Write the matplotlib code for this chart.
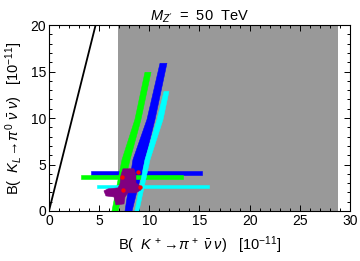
import matplotlib
matplotlib.use("Agg")
import matplotlib.pyplot as plt
from matplotlib.ticker import MultipleLocator

plt.rcParams['font.family'] = ['Liberation Sans', 'DejaVu Sans']
plt.rcParams['mathtext.fontset'] = 'custom'
plt.rcParams['mathtext.rm'] = 'Liberation Sans'
plt.rcParams['mathtext.it'] = 'Liberation Sans:italic'

# Grey experimental region (x range), full height
grey_x = [6.85, 28.85]
grey_y = [0, 20]

# Grossman-Nir bound line
gn_x = [0.0, 4.65]
gn_y = [0.0, 20.0]

# Diagonal bands: y levels, left edge x, right edge x
green_diag_y = [0.0, 5.51, 9.84, 14.92]
green_diag_l = [6.28, 7.28, 8.57, 9.57]
green_diag_r = [6.88, 8.08, 9.17, 10.17]

blue_diag_y = [0.0, 5.51, 9.84, 15.89]
blue_diag_l = [7.58, 8.37, 9.77, 11.07]
blue_diag_r = [8.28, 9.57, 10.57, 11.76]

cyan_diag_y = [0.0, 5.51, 9.84, 12.86]
cyan_diag_l = [8.57, 9.57, 10.77, 11.47]
cyan_diag_r = [8.97, 10.07, 11.37, 11.96]

# Horizontal bands: x range, y range
blue_h_x = [4.19, 15.25]
blue_h_y = [3.89, 4.32]
green_h_x = [3.19, 13.36]
green_h_y = [3.46, 3.89]
cyan_h_x = [4.79, 15.95]
cyan_h_y = [2.49, 2.81]

# Purple region outline
purple_x = [7.38, 8.47, 8.67, 8.67, 9.07, 9.17, 8.67, 7.88, 7.58, 7.48, 6.68,
            6.48, 5.68, 5.48, 5.88, 6.88, 7.08, 7.18]
purple_y = [4.54, 4.54, 3.89, 3.03, 2.70, 2.27, 1.95, 1.95, 1.51, 0.76, 0.65,
            1.51, 1.62, 2.16, 2.38, 2.49, 2.92, 3.89]

# Red points
red_x = [7.28, 8.87, 7.38, 9.07]
red_y = [3.68, 4.20, 2.27, 2.60]

fig = plt.figure(figsize=(3.6, 2.61), dpi=100)
ax = fig.add_axes([0.136, 0.1916, 0.836, 0.7124])

ax.fill_between(grey_x, grey_y[0], grey_y[1], color='#999999', lw=0, zorder=1)
ax.plot(gn_x, gn_y, color='black', lw=1.3, zorder=2)


def hband(xr, yr, c):
    ax.fill([xr[0], xr[1], xr[1], xr[0]], [yr[0], yr[0], yr[1], yr[1]],
            color=c, lw=0.4, ec=c, zorder=3, joinstyle='round')


def dband(ys, l, r, c):
    ax.fill(l + r[::-1], ys + ys[::-1], color=c, lw=0.4, ec=c, zorder=3,
            joinstyle='round')


hband(blue_h_x, blue_h_y, '#0000FF')
dband(blue_diag_y, blue_diag_l, blue_diag_r, '#0000FF')
hband(green_h_x, green_h_y, '#00FF00')
dband(green_diag_y, green_diag_l, green_diag_r, '#00FF00')
hband(cyan_h_x, cyan_h_y, '#00FFFF')
dband(cyan_diag_y, cyan_diag_l, cyan_diag_r, '#00FFFF')
ax.fill(purple_x, purple_y, color='#800080', lw=0.4, ec='#800080', zorder=4)
ax.scatter(red_x, red_y, s=10, color='#FF0000', lw=0, zorder=5)

ax.set_xlim(0, 30)
ax.set_ylim(0, 20)
ax.xaxis.set_major_locator(MultipleLocator(5))
ax.xaxis.set_minor_locator(MultipleLocator(1))
ax.yaxis.set_major_locator(MultipleLocator(5))
ax.yaxis.set_minor_locator(MultipleLocator(1))
ax.tick_params(which='both', direction='in', top=True, right=True,
               labelsize=10, width=0.7, pad=2)
ax.tick_params(which='major', length=4)
ax.tick_params(which='minor', length=2.2)
for s in ax.spines.values():
    s.set_linewidth(0.8)

ax.set_title(r"$M_{Z^{\prime}}$  =  50  TeV", fontsize=10.5, pad=3)
ax.set_xlabel(r"B(  $K^{\,+}\!\rightarrow\!\pi^{\,+}\;\bar{\nu}\;\nu$)   [10$^{-11}$]",
              fontsize=10.5, labelpad=5)
ax.set_ylabel(r"B(  $K_L\!\rightarrow\!\pi^{\,0}\;\bar{\nu}\;\nu$)   [10$^{-11}$]",
              fontsize=10.5, labelpad=4)

fig.savefig("out.png", dpi=100)
